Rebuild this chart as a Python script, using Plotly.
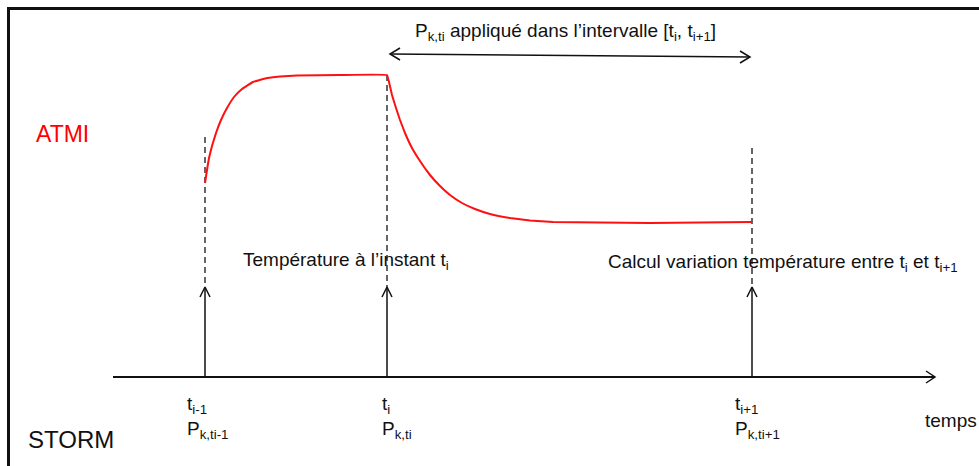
import plotly.graph_objects as go

# time marks along the STORM axis (pixel x positions of t_{i-1}, t_i, t_{i+1})
event_x = [205, 387, 752]
dash_top = [137, 75, 148]
event_t = ["t<sub>i-1</sub>", "t<sub>i</sub>", "t<sub>i+1</sub>"]
event_p = ["P<sub>k,ti-1</sub>", "P<sub>k,ti</sub>", "P<sub>k,ti+1</sub>"]
label_dx = [-20, -7, -19]

# ATMI temperature response
curve_x = [205, 207, 209, 212, 216, 221, 227, 234, 242, 253, 265, 280, 297, 340, 387,
           389, 392, 396, 400, 405, 412, 420, 430, 440, 450, 462, 475, 490, 510, 530,
           553, 600, 650, 700, 752]
curve_y = [183, 170, 158, 146, 133, 120, 108, 97, 89, 82, 78.5, 76.5, 75.5, 75, 75,
           82, 95, 108, 120, 133, 148, 161, 175, 186, 195, 203, 209, 214, 218, 220.5,
           222, 222.5, 223, 222.5, 222]

axis_y = 377
arrow_tip_y = 287

W, H = 979, 466
FONT = "Liberation Sans, Arial, sans-serif"
INK = "#111111"

fig = go.Figure()


def seg(xs, ys, color=INK, width=1.5, dash="solid"):
    fig.add_trace(go.Scatter(x=xs, y=ys, mode="lines", hoverinfo="skip",
                             line=dict(color=color, width=width, dash=dash),
                             showlegend=False))


# frame (only left and top edges are inside the picture)
seg([8.5, 8.5, W + 10], [H + 10, 8.5, 8.5], color="#111111", width=3)

# dashed guides and upward arrows
for x, top in zip(event_x, dash_top):
    seg([x, x], [top, arrow_tip_y], color="#333333", width=1.5, dash="6px,4px")
    seg([x, x], [axis_y, arrow_tip_y], width=1.5)
    seg([x - 5, x, x + 5], [arrow_tip_y + 10, arrow_tip_y, arrow_tip_y + 10], width=1.5)

# time axis with open arrowhead
seg([113, 935], [axis_y, axis_y], width=2)
seg([926, 935, 926], [axis_y - 6, axis_y, axis_y + 6], width=1.5)

# double arrow for the interval
ax0, ax1 = event_x[1] + 3, event_x[2] - 2
seg([ax0, ax1], [54, 57], width=1.5)
seg([ax0 + 10, ax0, ax0 + 10], [48, 54, 60], width=1.5)
seg([ax1 - 10, ax1, ax1 - 10], [51, 57, 63], width=1.5)

# red ATMI curve
fig.add_trace(go.Scatter(x=curve_x, y=curve_y, mode="lines", hoverinfo="skip",
                         line=dict(color="#FF1010", width=2, shape="spline", smoothing=0.2),
                         showlegend=False))


def txt(x, y, s, size=19, color=INK, anchor="left"):
    fig.add_annotation(x=x, y=y, text=s, showarrow=False, xanchor=anchor, yanchor="middle",
                       font=dict(family=FONT, size=size, color=color))


for x, dx, t, p in zip(event_x, label_dx, event_t, event_p):
    txt(x + dx, 405, t)
    txt(x + dx, 430, p)

txt(34, 134, "ATMI", size=23, color="#FF0000")
txt(26, 439, "STORM", size=24)
txt(923, 420, "temps")
txt(241, 261, "Température à l’instant t<sub>i</sub>")
txt(606, 263, "Calcul variation température entre t<sub>i</sub> et t<sub>i+1</sub>")
txt(413, 32, "P<sub>k,ti</sub> appliqué dans l’intervalle [t<sub>i</sub>, t<sub>i+1</sub>]")

fig.update_xaxes(range=[0, W], visible=False, fixedrange=True)
fig.update_yaxes(range=[H, 0], visible=False, fixedrange=True)
fig.update_layout(width=W, height=H, margin=dict(l=0, r=0, t=0, b=0),
                  plot_bgcolor="white", paper_bgcolor="white")

fig.write_html("out.html", config={"displayModeBar": False},
               post_script="document.body.style.margin='0';document.body.style.overflow='hidden';")
